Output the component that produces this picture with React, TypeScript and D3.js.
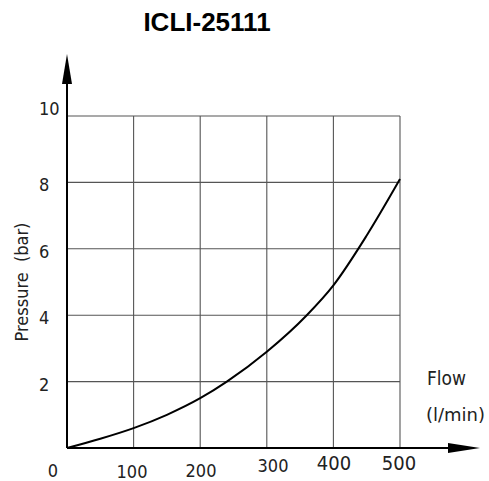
import React, { useEffect, useRef } from 'react';
import * as d3 from 'd3';

const flowValues = [0, 50, 100, 150, 200, 240, 300, 360, 400, 450, 500];
const pressureValues = [0, 0.28, 0.6, 1.0, 1.5, 2.0, 2.9, 4.0, 4.9, 6.4, 8.1];
const xTicks = [100, 200, 300, 400, 500];
const yTicks = [2, 4, 6, 8, 10];

const App: React.FC = () => {
  const svgRef = useRef<SVGSVGElement>(null);

  useEffect(() => {
    const svg = d3.select(svgRef.current);
    svg.selectAll('*').remove();

    const x = d3.scaleLinear().domain([0, 500]).range([67, 400]);
    const y = d3.scaleLinear().domain([0, 10]).range([448, 116]);
    const font = "'DejaVu Sans Condensed', 'DejaVu Sans', sans-serif";

    // Title
    svg.append('text')
      .attr('x', 207).attr('y', 31)
      .attr('text-anchor', 'middle')
      .style('font-family', 'Liberation Sans, Arial, sans-serif')
      .style('font-weight', 'bold')
      .style('font-size', '26px')
      .text('ICLI-25111');

    // Grid
    const grid = svg.append('g').attr('stroke', '#555').attr('stroke-width', 1.1);
    xTicks.forEach(t => {
      grid.append('line')
        .attr('x1', x(t)).attr('x2', x(t))
        .attr('y1', y(0)).attr('y2', y(10));
    });
    yTicks.forEach(t => {
      grid.append('line')
        .attr('x1', x(0)).attr('x2', x(500))
        .attr('y1', y(t)).attr('y2', y(t));
    });

    // Axes with arrows
    svg.append('line')
      .attr('x1', x(0)).attr('x2', x(0))
      .attr('y1', y(0)).attr('y2', 70)
      .attr('stroke', '#000').attr('stroke-width', 2);
    svg.append('path')
      .attr('d', `M${x(0)},54 L${x(0) - 5},84 L${x(0) + 5},84 Z`)
      .attr('fill', '#000');
    svg.append('line')
      .attr('x1', x(0)).attr('x2', 462)
      .attr('y1', y(0)).attr('y2', y(0))
      .attr('stroke', '#000').attr('stroke-width', 2);
    svg.append('path')
      .attr('d', `M480,${y(0)} L448,${y(0) - 5} L448,${y(0) + 5} Z`)
      .attr('fill', '#000');

    // Curve
    const data = flowValues.map((f, i) => [f, pressureValues[i]] as [number, number]);
    const line = d3.line<[number, number]>()
      .x(d => x(d[0]))
      .y(d => y(d[1]))
      .curve(d3.curveMonotoneX);
    svg.append('path')
      .datum(data)
      .attr('d', line)
      .attr('fill', 'none')
      .attr('stroke', '#000')
      .attr('stroke-width', 2);

    // Tick labels
    const labelStyle = (s: d3.Selection<SVGTextElement, unknown, null, undefined>) =>
      s.style('font-family', font).style('font-size', '18px').attr('fill', '#222');

    svg.append('text')
      .attr('x', 53).attr('y', 477)
      .attr('text-anchor', 'middle')
      .call(labelStyle)
      .text('0');
    const xLabelY: Record<number, number> = { 100: 478, 200: 477, 300: 472, 400: 470, 500: 470 };
    const xLabelX: Record<number, number> = { 100: 132, 200: 201, 300: 273, 400: 334, 500: 399 };
    xTicks.forEach(t => {
      svg.append('text')
        .attr('x', xLabelX[t]).attr('y', xLabelY[t])
        .attr('text-anchor', 'middle')
        .call(labelStyle)
        .style('font-size', t >= 400 ? '20px' : '18px')
        .text(String(t));
    });
    yTicks.forEach(t => {
      svg.append('text')
        .attr('x', 39).attr('y', t === 10 ? y(t) - 1 : y(t) + 9)
        .attr('text-anchor', 'start')
        .call(labelStyle)
        .text(String(t));
    });

    // Axis titles
    svg.append('text')
      .attr('transform', 'translate(28,282) rotate(-90)')
      .attr('text-anchor', 'middle')
      .call(labelStyle)
      .style('white-space', 'pre')
      .text('Pressure  (bar)');
    svg.append('text')
      .attr('x', 427).attr('y', 385)
      .call(labelStyle)
      .style('font-size', '19px')
      .text('Flow');
    svg.append('text')
      .attr('x', 426).attr('y', 421)
      .call(labelStyle)
      .style('font-family', "'DejaVu Sans', sans-serif")
      .text('(l/min)');
  }, []);

  return (
    <svg ref={svgRef} width={489} height={481}
      style={{ position: 'absolute', left: 0, top: 0, background: '#fff' }} />
  );
};

export default App;
